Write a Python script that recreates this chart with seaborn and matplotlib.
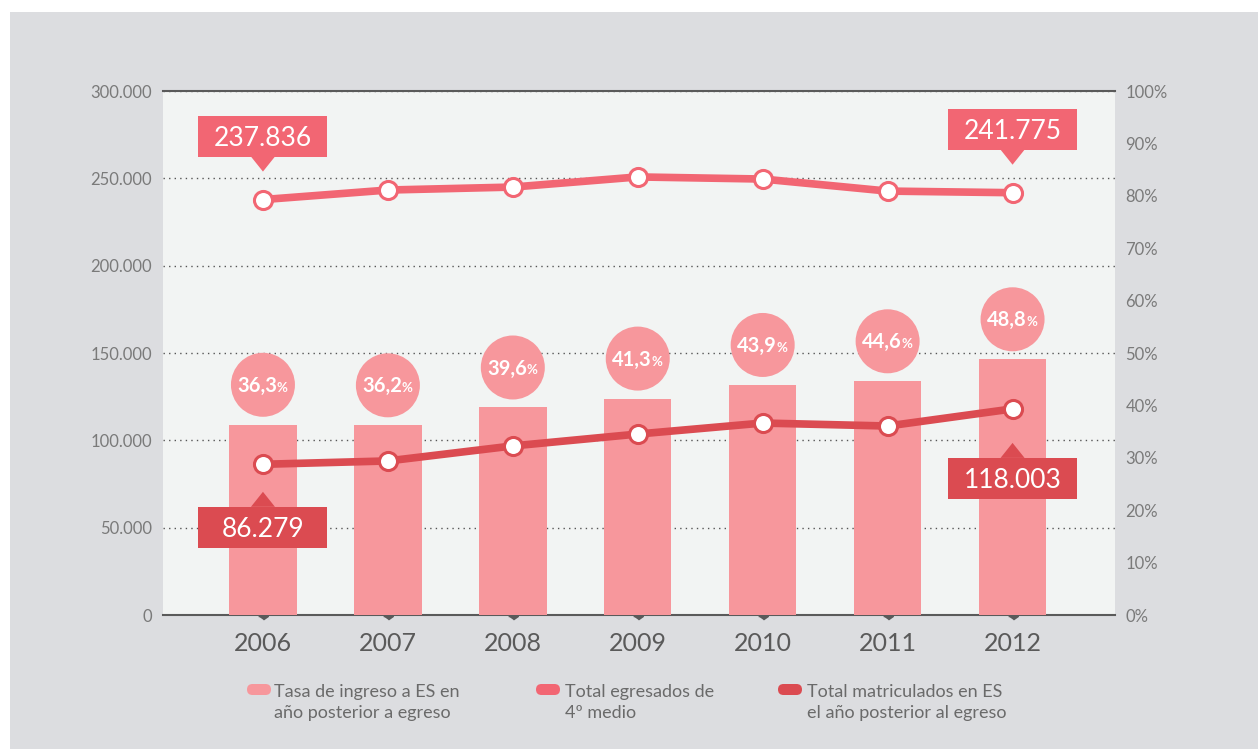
"""
Tasa de ingreso a educación superior: barras (%) y totales (líneas)
"""

import numpy as np
import matplotlib
matplotlib.use("Agg")
import matplotlib.pyplot as plt
import matplotlib.transforms as mtransforms
from matplotlib.patches import Rectangle, Polygon, Circle, FancyBboxPatch
import seaborn as sns

# data
years = ["2006", "2007", "2008", "2009", "2010", "2011", "2012"]
tasa_ingreso = [36.3, 36.2, 39.6, 41.3, 43.9, 44.6, 48.8]
total_egresados = [237836, 243300, 245000, 250800, 249600, 242700, 241775]
total_matriculados = [86279, 88200, 96800, 103600, 109900, 108200, 118003]

left_ticks = [0, 50000, 100000, 150000, 200000, 250000, 300000]
right_ticks = [0, 10, 20, 30, 40, 50, 60, 70, 80, 90, 100]

legend_labels = [
    "Tasa de ingreso a ES en\naño posterior a egreso",
    "Total egresados de\n4º medio",
    "Total matriculados en ES\nel año posterior al egreso",
]

colors = {
    'bar': '#f7979c',
    'egresados': '#f26673',
    'matriculados': '#db4b51',
    'plot_bg': '#f2f4f3',
    'outer_bg': '#dcdde0',
    'tick': '#7a7a7a',
    'year': '#5a5a5a',
    'spine': '#5a5a5a',
}


def fmt_miles(v):
    return f"{v:,.0f}".replace(",", ".")


def px_offset(ax, x, y):
    """transform: pixel offsets relative to a data point"""
    return mtransforms.Affine2D() + mtransforms.ScaledTranslation(x, y, ax.transData)


sns.set_theme(style="white")
plt.rcParams['font.family'] = ['Lato', 'DejaVu Sans']

W, H = 1258, 749
fig = plt.figure(figsize=(W / 100, H / 100), dpi=100, facecolor='white')
fig.patches.append(Rectangle((10 / W, 0), 1, (H - 12) / H, transform=fig.transFigure,
                             fc=colors['outer_bg'], ec='none', zorder=-10))

ax = fig.add_axes([163 / W, (H - 615) / H, 952 / W, 524 / H])
ax.set_facecolor(colors['plot_bg'])
ax_bar = ax.twinx()
ax_line = ax.twinx()

# bars (right axis, %)
sns.barplot(x=years, y=tasa_ingreso, ax=ax_bar, color=colors['bar'],
            width=0.54, saturation=1, linewidth=0, zorder=2)

# lines (left axis, totals)
x_pos = np.arange(len(years))
for vals, key in [(total_egresados, 'egresados'), (total_matriculados, 'matriculados')]:
    sns.lineplot(x=x_pos, y=vals, ax=ax_line, color=colors[key], lw=5.5,
                 marker='o', ms=13, mfc='white', mec=colors[key], mew=2.2)

ax.set_ylim(0, 300000)
ax_line.set_ylim(0, 300000)
ax_bar.set_ylim(0, 100)

# percentage bubbles above bars
for i, v in enumerate(tasa_ingreso):
    tr = px_offset(ax_bar, i, v)
    ax_bar.add_artist(Circle((0, 40), 32, transform=tr, fc=colors['bar'], ec='none',
                             clip_on=False, zorder=3))
    ax_bar.annotate(f"{v:.1f}".replace(".", ","), xy=(i, v), xytext=(-6, 33),
                    textcoords='offset pixels', ha='center', va='baseline',
                    color='white', fontsize=14.5, fontweight='bold', zorder=4)
    ax_bar.annotate("%", xy=(i, v), xytext=(14, 33), textcoords='offset pixels',
                    ha='left', va='baseline', color='white', fontsize=9.5,
                    fontweight='bold', zorder=4)

# value callouts (first and last year)
callouts = [
    (0, total_egresados[0], colors['egresados'], 63.5, 1),
    (6, total_egresados[6], colors['egresados'], 63.5, 1),
    (0, total_matriculados[0], colors['matriculados'], 63.0, -1),
    (6, total_matriculados[6], colors['matriculados'], 69.5, -1),
]
for i, v, c, dist, side in callouts:
    tr = px_offset(ax_line, i, v)
    cy = side * dist
    edge = cy - side * 20.5
    ax_line.add_artist(Rectangle((-64.5, cy - 20.5), 129, 41, transform=tr,
                                 fc=c, ec='none', clip_on=False, zorder=5))
    ax_line.add_artist(Polygon([(-12, edge), (12, edge), (0, edge - side * 15)],
                               closed=True, transform=tr, fc=c, ec='none',
                               clip_on=False, zorder=5))
    ax_line.annotate(fmt_miles(v), xy=(i, v), xytext=(0, cy - 9.5),
                     textcoords='offset pixels', ha='center', va='baseline',
                     color='white', fontsize=19, zorder=6)

# axes styling
ax.yaxis.grid(True, ls=(0, (1, 3)), color='#555555', lw=1)
ax.xaxis.grid(False)
ax.set_axisbelow(True)
for name, sp in ax.spines.items():
    sp.set_visible(name in ('top', 'bottom'))
    sp.set_color(colors['spine'])
    sp.set_linewidth(1.5)
for a in (ax_bar, ax_line):
    for sp in a.spines.values():
        sp.set_visible(False)

ax.set_yticks(left_ticks)
ax.set_yticklabels([fmt_miles(t) for t in left_ticks])
ax.tick_params(axis='y', length=0, pad=8, labelsize=12, labelcolor=colors['tick'])

ax_bar.set_yticks(right_ticks)
ax_bar.set_yticklabels([f"{t}%" for t in right_ticks])
ax_bar.tick_params(axis='y', length=0, pad=7.5, labelsize=12, labelcolor=colors['tick'])
ax_line.set_yticks([])
ax_bar.set_ylabel("")
ax_line.set_ylabel("")

ax.set_xticks(x_pos)
ax.set_xticklabels(years)
ax.set_xlim(-0.8, 6.82)
ax.tick_params(axis='x', length=0, pad=12.5, labelsize=18, labelcolor=colors['year'])

# little triangle ticks under the axis
ax.plot(x_pos, [0] * len(x_pos), ls='none', marker=[(-5, 0), (5, 0), (0, -3.5)],
        ms=7, color=colors['spine'], clip_on=False,
        transform=mtransforms.offset_copy(ax.transData, fig, 0, -1, units='dots'))

# legend drawn by hand
ident = mtransforms.IdentityTransform()
legend_items = [(247, 274, 'bar'), (536, 565, 'egresados'), (778, 807, 'matriculados')]
for (mx, tx, key), label in zip(legend_items, legend_labels):
    fig.patches.append(FancyBboxPatch((mx, H - 695), 24, 11,
                                      boxstyle='round,pad=0,rounding_size=5.5',
                                      transform=ident, fc=colors[key], ec='none'))
    for k, line in enumerate(label.split("\n")):
        fig.text(tx / W, (H - 697 - 21 * k) / H, line, ha='left', va='baseline',
                 fontsize=13, color='#6a6a6a')

fig.savefig('out.png', dpi=100, facecolor=fig.get_facecolor())
